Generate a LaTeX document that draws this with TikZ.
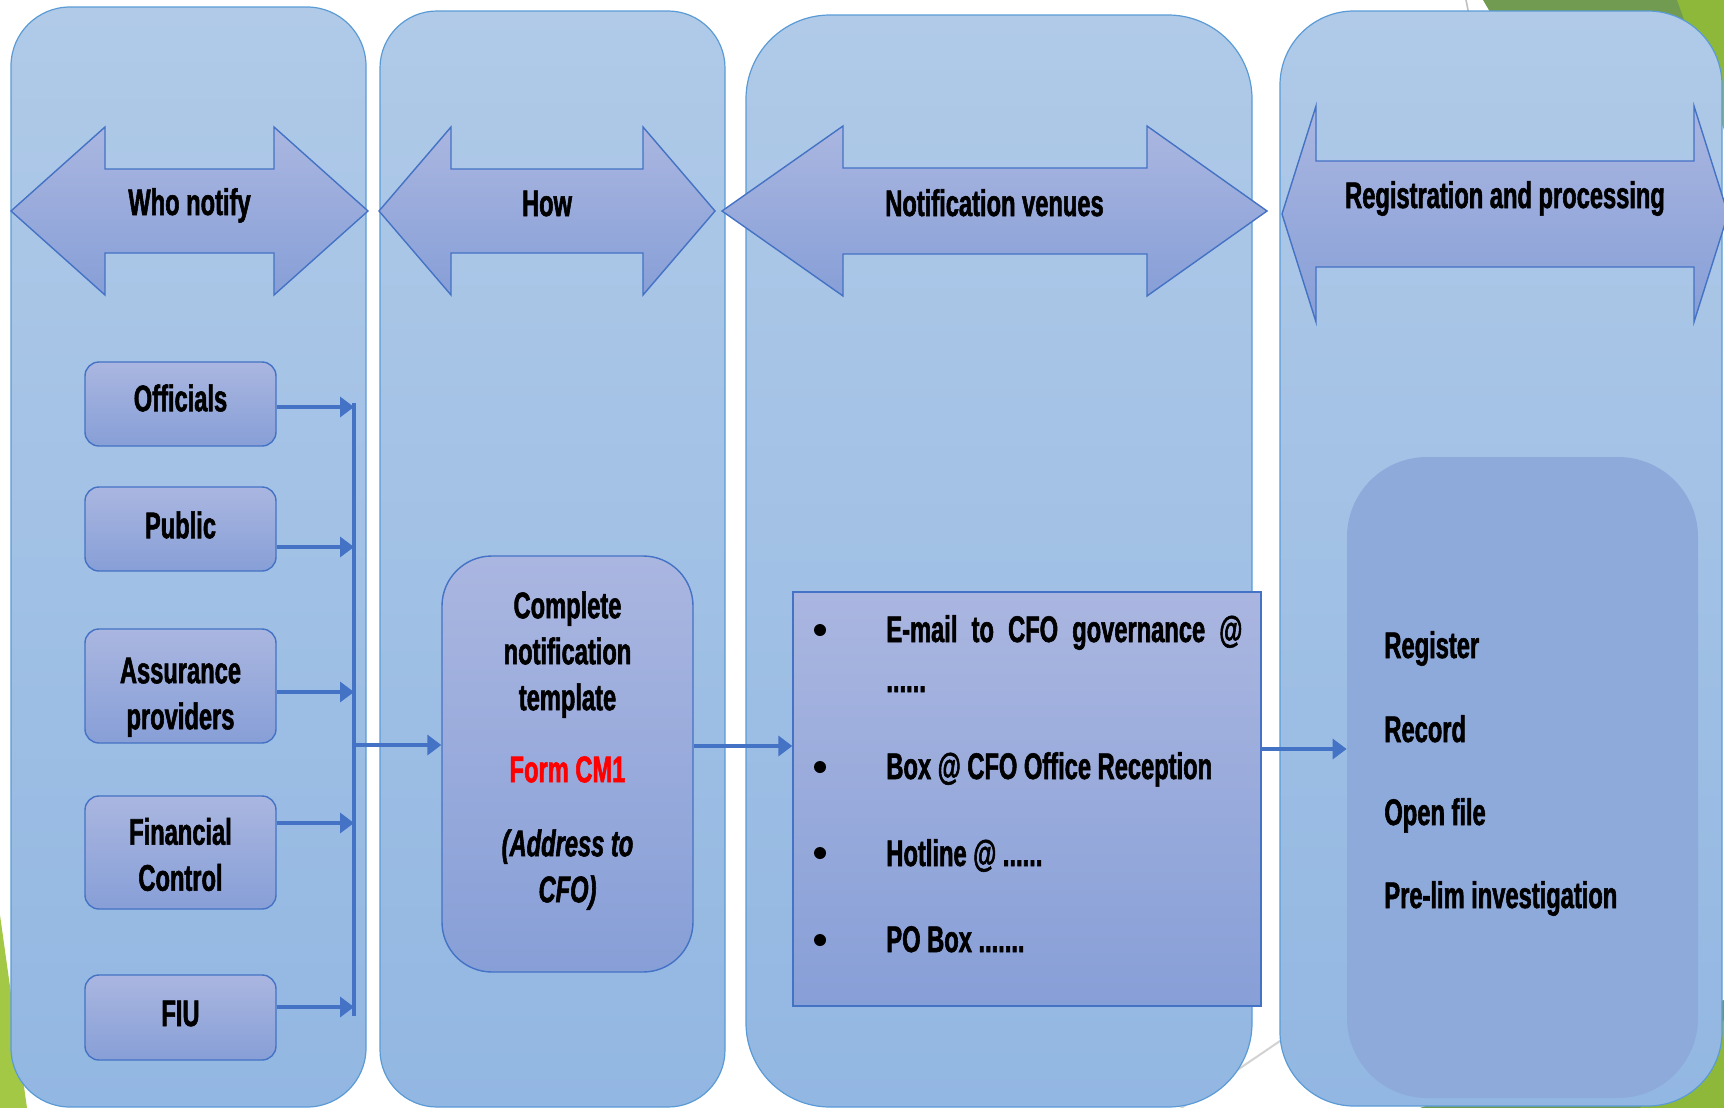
\documentclass[tikz,border=0pt]{standalone}
\usepackage{fontspec}
\setmainfont{Liberation Sans}[FakeStretch=0.64, BoldFeatures={FakeBold=1.5}, BoldItalicFeatures={FakeBold=1.5}]
\usetikzlibrary{calc, positioning, arrows.meta}
\definecolor{panelTop}{RGB}{176,202,232}
\definecolor{panelBot}{RGB}{146,183,226}
\definecolor{panelEdge}{RGB}{91,155,213}
\definecolor{boxTop}{RGB}{170,182,224}
\definecolor{boxBot}{RGB}{135,159,215}
\definecolor{boxEdge}{RGB}{68,114,196}
\definecolor{innerFill}{RGB}{142,170,219}
\definecolor{leafDark}{RGB}{112,155,80}
\definecolor{leafLight}{RGB}{141,184,58}
\definecolor{leafPale}{RGB}{163,200,70}

\begin{document}
\begin{tikzpicture}[x=0.5pt, y=-0.5pt,
  panel/.style={draw=panelEdge, line width=0.6pt, top color=panelTop, bottom color=panelBot},
  hdr/.style={draw=boxEdge, line width=0.7pt, top color=boxTop, bottom color=boxBot},
  lbl/.style={font=\fontsize{18.5}{23}\selectfont\bfseries, inner sep=0pt},
  who/.style={hdr, lbl, rounded corners=7pt, minimum width=95.5pt, align=center},
  flow/.style={draw=boxEdge, line width=2pt, -{Triangle[length=7pt,width=10pt]}},
  bus/.style={draw=boxEdge, line width=2pt}]
\useasboundingbox (0,0) rectangle (1724,1108);
\fill[leafDark] (1483,0) -- (1724,0) -- (1724,80) -- (1530,80) -- cycle;
\fill[leafLight] (1677,0) -- (1724,0) -- (1724,130) -- cycle;
\fill[leafPale] (0,915) -- (27,1108) -- (0,1108) -- cycle;
\fill[leafDark] (1420,1108) -- (1724,1108) -- (1724,1000) -- cycle;
\fill[leafLight] (1640,1108) -- (1724,1108) -- (1724,1020) -- cycle;
\draw[gray!35, line width=1pt] (1140,1136) -- (1420,946);
\draw[gray!50, line width=0.8pt] (1466,0) -- (1472,30);

\draw[panel, rounded corners=29.5pt] (11,7) rectangle (366,1107);
\draw[panel, rounded corners=28.5pt] (380,11) rectangle (725,1107);
\draw[panel, rounded corners=42pt] (746,15) rectangle (1252,1107);
\draw[panel, rounded corners=37pt] (1280,11) rectangle (1722,1106);

\foreach \l/\a/\b/\r/\c/\H/\S/\t/\bl [count=\i] in
  {11/105/274/368/211/84/42/Who notify/215,
   379/451/643/715/211/84/42/How/216,
   722/843/1147/1267/211/85/43/Notification venues/216,
   1282/1316/1694/1728/214/108/53/Registration and processing/208}
{
  \draw[hdr] (\l,\c) -- (\a,{\c-\H}) -- (\a,{\c-\S}) -- (\b,{\c-\S}) -- (\b,{\c-\H})
    -- (\r,\c) -- (\b,{\c+\H}) -- (\b,{\c+\S}) -- (\a,{\c+\S}) -- (\a,{\c+\H}) -- cycle;
  \node[lbl, anchor=base] (hdr\i) at ({(\l+\r)/2},\bl) {\t};
}

\node[who, minimum height=42pt] (off) at (180.5,404) {\raisebox{3pt}[\height][\depth]{Officials}};
\node[who, minimum height=42pt] (pub) at (180.5,529) {\raisebox{2pt}[\height][\depth]{Public}};
\node[who, minimum height=57pt] (ass) at (180.5,686) {\raisebox{-5.5pt}[\height][\depth]{\begin{tabular}{@{}c@{}}Assurance\\providers\end{tabular}}};
\node[who, minimum height=56.5pt] (fin) at (180.5,852.5) {\raisebox{-3pt}[\height][\depth]{\begin{tabular}{@{}c@{}}Financial\\Control\end{tabular}}};
\node[who, minimum height=42.5pt] (fiu) at (180.5,1017.5) {\raisebox{2pt}[\height][\depth]{FIU}};

\coordinate (bustop) at (354,403);
\coordinate (busbot) at (354,1016);
\coordinate (busout) at (354,745);
\draw[bus] (bustop) -- (busbot);
\foreach \n/\d in {off/-1.5pt, pub/-9pt, ass/-3pt, fin/14.75pt, fiu/5.25pt}
  \draw[flow] ([yshift=\d]\n.east) -- ([yshift=\d]\n.east -| bustop);

\node[hdr, lbl, rounded corners=25pt, minimum width=125.5pt, minimum height=208pt] (tmpl) at (567.5,764)
  {\raisebox{6.5pt}[\height][\depth]{\begin{tabular}{@{}c@{}}Complete\\notification\\template\\[13pt]\textcolor{red}{Form CM1}\\[14pt]\itshape(Address to\\\itshape CFO)\end{tabular}}};
\draw[flow] (busout) -- (busout -| tmpl.west);

\node[hdr, minimum width=234pt, minimum height=207pt, inner sep=0pt] (venues) at (1027,799) {};
\node[lbl, anchor=base west] (ven1) at (886,642) {\makebox[178pt][s]{E-mail to CFO governance @}};
\node[lbl, anchor=base west] (ven1b) at (886,692) {......};
\node[lbl, anchor=base west] (ven2) at (886,779) {Box @ CFO Office Reception};
\node[lbl, anchor=base west] (ven3) at (886,866) {Hotline @ ......};
\node[lbl, anchor=base west] (ven4) at (886,952) {PO Box .......};
\foreach \yy in {630,767,853,940}
  \fill (820,\yy) circle (3pt);
\draw[flow] ([yshift=9pt]tmpl.east) -- ([yshift=9pt]tmpl.east -| venues.west);

\node[fill=innerFill, rounded corners=40pt, minimum width=175.5pt, minimum height=320.5pt, inner sep=0pt] (regbox) at (1522.5,777.5) {};
\foreach \yy/\t [count=\i] in {658/Register, 742/Record, 825/Open file, 908/Pre-lim investigation}
  \node[lbl, anchor=base west] (reg\i) at (1384,\yy) {\t};
\draw[flow] ([yshift=25pt]venues.east) -- ([yshift=25pt]venues.east -| regbox.west);
\end{tikzpicture}
\end{document}
